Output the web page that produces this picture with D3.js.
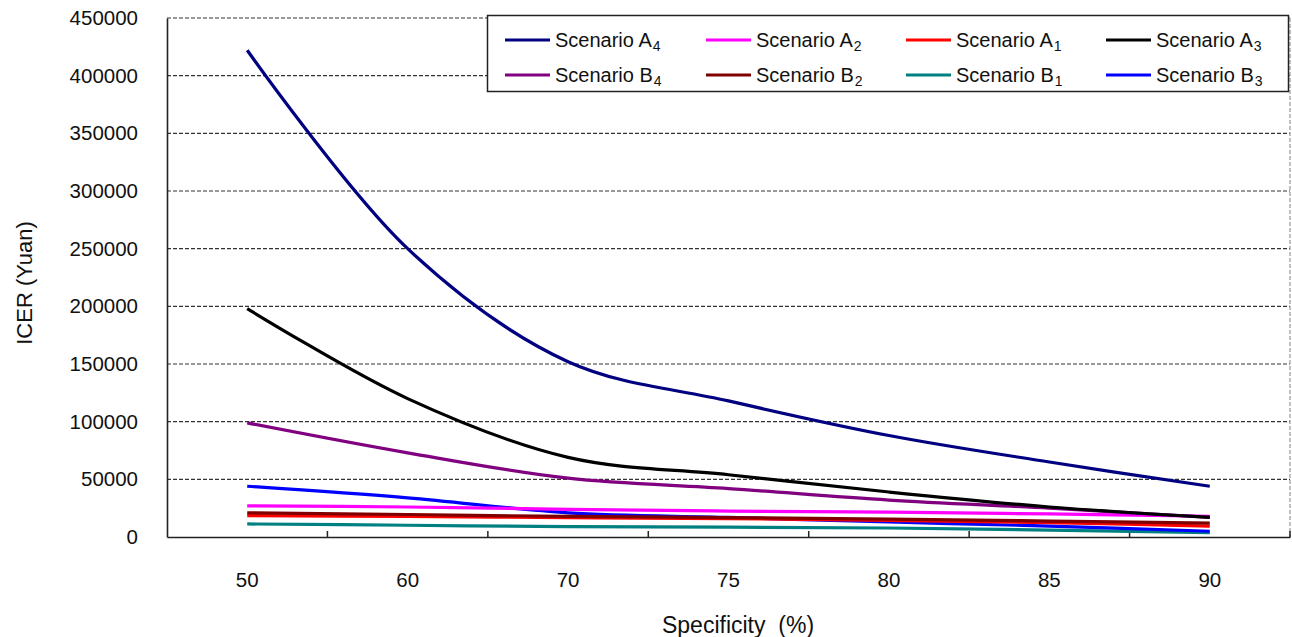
<!DOCTYPE html>
<html>
<head>
<meta charset="utf-8">
<script src="https://cdn.jsdelivr.net/npm/d3@7"></script>
<style>
  body { margin: 0; background: #fff; }
  svg { display: block; font-family: Arial, "Liberation Sans", sans-serif; }
</style>
</head>
<body>
<svg id="chart" width="1292" height="637"></svg>
<script>
const categories = ["50", "60", "70", "75", "80", "85", "90"];
const yTicks = [0, 50000, 100000, 150000, 200000, 250000, 300000, 350000, 400000, 450000];

const seriesNames = ["A4", "A2", "A1", "A3", "B4", "B2", "B1", "B3"];
const seriesColors = ["#000080", "#ff00ff", "#ff0000", "#000000", "#800080", "#800000", "#008080", "#0000ff"];

const valuesA4 = [422000, 250000, 152000, 118000, 88000, 65000, 44000];
const valuesA2 = [27000, 26000, 24000, 22500, 21500, 20000, 18000];
const valuesA1 = [18500, 17800, 16800, 16000, 14500, 12500, 9500];
const valuesA3 = [198000, 120000, 69000, 54000, 39000, 26000, 17000];
const valuesB4 = [99000, 73000, 51000, 42000, 32000, 25000, 17000];
const valuesB2 = [21000, 19500, 17800, 16800, 15500, 13800, 12000];
const valuesB1 = [11300, 10200, 9000, 8500, 7800, 6000, 3800];
const valuesB3 = [44000, 34000, 21000, 17000, 13000, 9500, 5000];

const seriesValues = {A4: valuesA4, A2: valuesA2, A1: valuesA1, A3: valuesA3,
                      B4: valuesB4, B2: valuesB2, B1: valuesB1, B3: valuesB3};

const svg = d3.select("#chart");
const L = 167, R = 1290, T = 18, B = 537;

const x = d3.scaleBand().domain(categories).range([L, R]).padding(0);
const y = d3.scaleLinear().domain([0, 450000]).range([B, T]);
const cx = c => x(c) + x.bandwidth() / 2;

// gridlines
svg.append("g").selectAll("line").data(yTicks.filter(d => d > 0)).join("line")
  .attr("x1", L).attr("x2", R)
  .attr("y1", d => y(d)).attr("y2", d => y(d))
  .attr("stroke", "#333").attr("stroke-width", 1.2).attr("stroke-dasharray", "4,2");

// right border dashed
svg.append("line").attr("x1", R).attr("x2", R).attr("y1", T).attr("y2", B)
  .attr("stroke", "#999").attr("stroke-width", 1.2).attr("stroke-dasharray", "4,2");

// y axis
const yAxis = svg.append("g").attr("transform", `translate(${L},0)`)
  .call(d3.axisLeft(y).tickValues(yTicks).tickSize(0).tickPadding(29).tickFormat(d3.format("d")));
yAxis.select(".domain").attr("stroke", "#222").attr("stroke-width", 1.6);
yAxis.selectAll("text").attr("font-size", 20.5).attr("fill", "#111")
  .attr("font-family", "Arial, 'Liberation Sans', sans-serif");

// x axis
const xAxis = svg.append("g").attr("transform", `translate(0,${B})`)
  .call(d3.axisBottom(x).tickSize(0).tickPadding(35));
xAxis.select(".domain").attr("stroke", "#222").attr("stroke-width", 1.6);
xAxis.selectAll("text").attr("font-size", 20.5).attr("fill", "#111")
  .attr("font-family", "Arial, 'Liberation Sans', sans-serif");
// inner tick marks at band boundaries
const bounds = categories.slice(1).map(c => x(c)).concat([R]);
svg.append("g").selectAll("line").data(bounds).join("line")
  .attr("x1", d => d).attr("x2", d => d).attr("y1", B).attr("y2", B - 6)
  .attr("stroke", "#222").attr("stroke-width", 1.5);

// lines
const line = d3.line().x((d, i) => cx(categories[i])).y(d => y(d)).curve(d3.curveCatmullRom.alpha(0.5));
const drawOrder = ["B1", "B3", "A1", "B2", "A2", "B4", "A3", "A4"];
svg.append("g").selectAll("path").data(drawOrder).join("path")
  .attr("d", n => line(seriesValues[n]))
  .attr("fill", "none")
  .attr("stroke", n => seriesColors[seriesNames.indexOf(n)])
  .attr("stroke-width", 3.2)
  .attr("stroke-linejoin", "round");

// legend
const lg = svg.append("g");
lg.append("rect").attr("x", 487.5).attr("y", 15.5).attr("width", 801).attr("height", 76)
  .attr("fill", "#fff").attr("stroke", "#222").attr("stroke-width", 1.5);
const colX = [505, 706, 906, 1106];
const rowY = [40, 75];
seriesNames.forEach((n, i) => {
  const col = i % 4, row = Math.floor(i / 4);
  const gx = colX[col], gy = rowY[row];
  lg.append("line").attr("x1", gx).attr("x2", gx + 45).attr("y1", gy).attr("y2", gy)
    .attr("stroke", seriesColors[i]).attr("stroke-width", 3.2);
  const t = lg.append("text").attr("x", gx + 50).attr("y", gy + 7)
    .attr("font-size", 20).attr("fill", "#111");
  t.append("tspan").text("Scenario " + n[0]);
  t.append("tspan").attr("font-size", 14).attr("dx", 1).attr("dy", 4).text(n[1]);
});

// axis titles
svg.append("text").attr("x", 738).attr("y", 633).attr("text-anchor", "middle")
  .attr("font-size", 23).attr("fill", "#111").style("white-space", "pre")
  .text("Specificity  (%)");
svg.append("text").attr("transform", "translate(32,283) rotate(-90)").attr("text-anchor", "middle")
  .attr("font-size", 22).attr("fill", "#111")
  .text("ICER (Yuan)");
</script>
</body>
</html>
